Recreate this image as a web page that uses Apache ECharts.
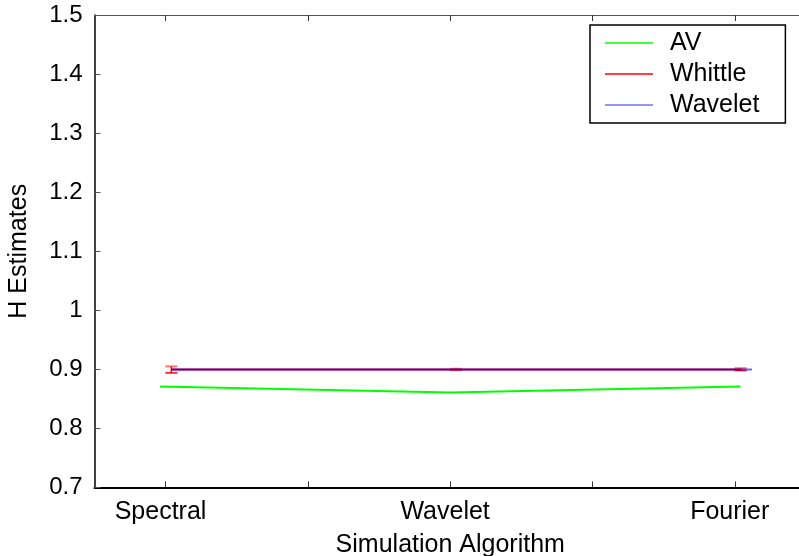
<!DOCTYPE html>
<html>
<head>
<meta charset="utf-8">
<script src="https://cdn.jsdelivr.net/npm/echarts@6/dist/echarts.min.js"></script>
<style>
html,body{margin:0;padding:0;background:#fff;}
#chart{width:799px;height:556px;}
</style>
</head>
<body>
<div id="chart"></div>
<script>
// ---- data ----
const categories = ['Spectral', 'Wavelet', 'Fourier'];
const categoryLabelX = [0.982, 1.982, 2.982];
const avX = [0.98, 2.0, 3.02];
const avValues = [0.871, 0.861, 0.871];
const whittleX = [1.02, 2.02, 3.02];
const whittleValues = [0.9, 0.9, 0.9];
const whittleLow = [0.894, 0.899, 0.898];
const whittleHigh = [0.905, 0.901, 0.902];
const waveletX = [1.02, 2.02, 3.06];
const waveletValues = [0.9, 0.9, 0.9];
const yTicks = [0.7, 0.8, 0.9, 1, 1.1, 1.2, 1.3, 1.4, 1.5];
const xTicks = [1, 1.5, 2, 2.5, 3];

const zip = (xs, ys) => xs.map((x, i) => [x, ys[i]]);
const FONT = 'Liberation Sans';
const FS = 25;

const chart = echarts.init(document.getElementById('chart'), null, {renderer: 'canvas'});
chart.setOption({
  animation: false,
  backgroundColor: '#fff',
  textStyle: {fontFamily: FONT},
  grid: {left: 94.5, top: 15, right: -7, bottom: 68.5, containLabel: false, outerBoundsMode: 'none'},
  legend: {
    orient: 'vertical',
    left: 590, top: 25,
    padding: [5, 26, 5, 15],
    itemGap: 5,
    itemWidth: 48, itemHeight: 1.5,
    icon: 'rect',
    borderColor: '#000', borderWidth: 1.5,
    backgroundColor: '#fff',
    textStyle: {fontFamily: FONT, fontSize: FS, color: '#000', padding: [0, 0, 0, 12], lineHeight: 26},
    data: [
      {name: 'AV', itemStyle: {color: '#00ff00'}},
      {name: 'Whittle', itemStyle: {color: '#ff0000'}},
      {name: 'Wavelet', itemStyle: {color: '#7070ff'}}
    ]
  },
  xAxis: [{
    type: 'value', min: 0.75, max: 3.25, position: 'bottom',
    name: 'Simulation Algorithm', nameLocation: 'middle', nameGap: 45,
    nameTextStyle: {fontFamily: FONT, fontSize: FS, color: '#000'},
    axisLine: {show: true, onZero: false, lineStyle: {color: '#000', width: 2}},
    axisTick: {show: true, inside: true, length: 6, customValues: xTicks, lineStyle: {color: '#333', width: 1}},
    axisLabel: {show: true, customValues: categoryLabelX, margin: 12, fontFamily: FONT, fontSize: FS, color: '#000',
      formatter: v => { const i = categoryLabelX.findIndex(c => Math.abs(c - v) < 1e-6); return i < 0 ? '' : categories[i]; }},
    splitLine: {show: false}
  }, {
    type: 'value', min: 0.75, max: 3.25, position: 'top',
    axisLine: {show: true, onZero: false, lineStyle: {color: '#555', width: 1}},
    axisTick: {show: true, inside: true, length: 6, customValues: xTicks, lineStyle: {color: '#333', width: 1}},
    axisLabel: {show: false},
    splitLine: {show: false}
  }],
  yAxis: [{
    type: 'value', min: 0.7, max: 1.5, interval: 0.1, position: 'left',
    name: 'H Estimates', nameLocation: 'middle', nameGap: 63, nameRotate: 90,
    nameTextStyle: {fontFamily: FONT, fontSize: FS, color: '#000'},
    axisLine: {show: true, onZero: false, lineStyle: {color: '#000', width: 1.5}},
    axisTick: {show: true, inside: true, length: 6, lineStyle: {color: '#555', width: 1}},
    axisLabel: {show: true, margin: 12, fontFamily: FONT, fontSize: 24, color: '#000',
      formatter: v => { const t = yTicks.find(y => Math.abs(y - v) < 1e-6); return t === undefined ? '' : String(t); }},
    splitLine: {show: false}
  }],
  series: [
    {
      name: 'AV', type: 'line', xAxisIndex: 0, yAxisIndex: 0,
      data: zip(avX, avValues), symbol: 'none', smooth: false,
      lineStyle: {color: '#00ff00', width: 2}, itemStyle: {color: '#00ff00'}, z: 3
    },
    {
      name: 'Whittle', type: 'line', xAxisIndex: 0, yAxisIndex: 0,
      data: zip(whittleX, whittleValues), symbol: 'none',
      lineStyle: {color: '#ff0000', width: 2}, itemStyle: {color: '#ff0000'}, z: 3
    },
    {
      name: 'WhittleErr', type: 'custom', xAxisIndex: 0, yAxisIndex: 0,
      data: whittleX.map((x, i) => [x, whittleLow[i], whittleHigh[i]]),
      renderItem: (params, api) => {
        const x = api.value(0);
        const lo = api.coord([x, api.value(1)]);
        const hi = api.coord([x, api.value(2)]);
        const hw = 6;
        const style = {stroke: '#ff0000', lineWidth: 1.5};
        return {type: 'group', children: [
          {type: 'line', shape: {x1: lo[0], y1: lo[1], x2: hi[0], y2: hi[1]}, style},
          {type: 'line', shape: {x1: lo[0] - hw, y1: lo[1], x2: lo[0] + hw, y2: lo[1]}, style},
          {type: 'line', shape: {x1: hi[0] - hw, y1: hi[1], x2: hi[0] + hw, y2: hi[1]}, style: {stroke: 'rgba(255,0,0,0.55)', lineWidth: 2}}
        ]};
      },
      z: 4, silent: true
    },
    {
      name: 'Wavelet', type: 'line', xAxisIndex: 0, yAxisIndex: 0,
      data: zip(waveletX, waveletValues), symbol: 'none',
      lineStyle: {color: '#0000ff', width: 2, opacity: 0.62}, itemStyle: {color: '#7070ff'}, z: 5
    }
  ]
});
</script>
</body>
</html>
